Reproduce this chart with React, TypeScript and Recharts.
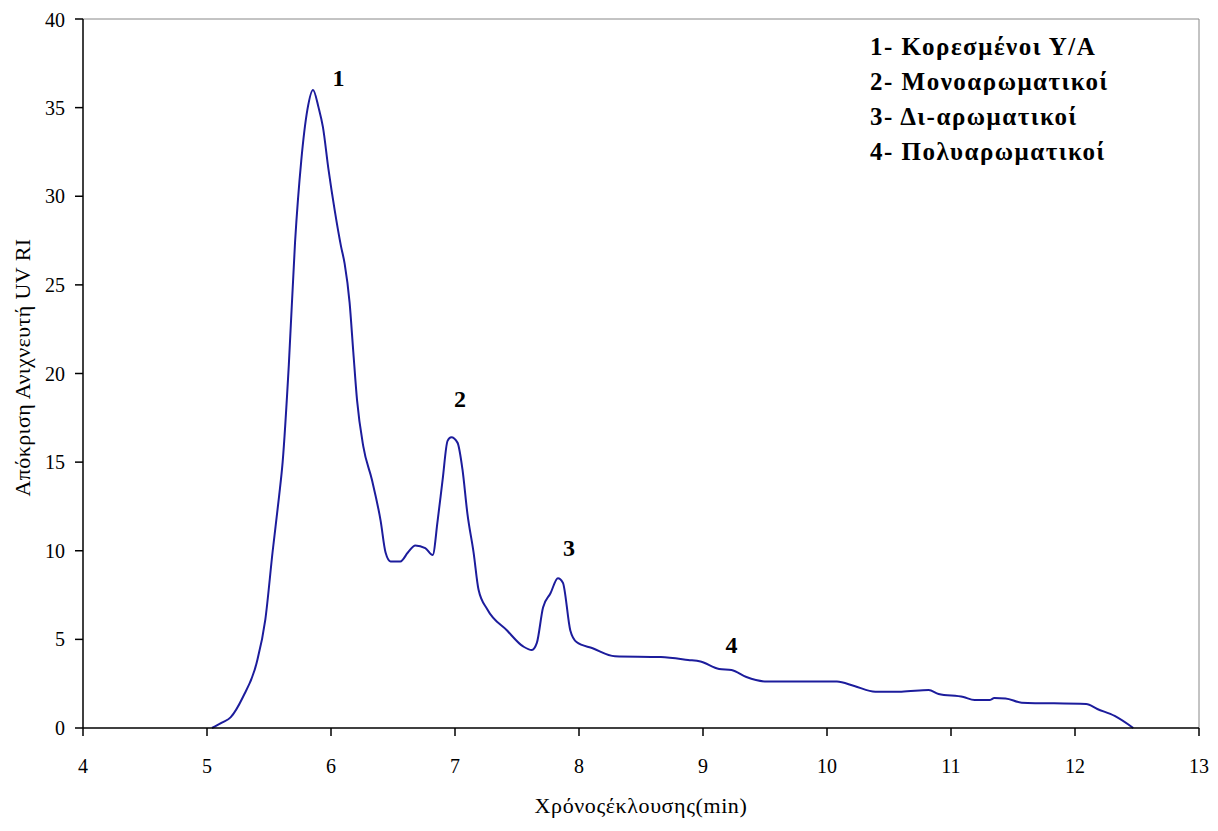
import { LineChart, Line, XAxis, YAxis, ReferenceLine, ReferenceDot } from "recharts";

const elutionTime = [
  5.04, 5.12, 5.19, 5.29, 5.4, 5.47, 5.53, 5.58, 5.61, 5.66, 5.71, 5.76, 5.81, 5.855, 5.9, 5.935,
  5.98, 6.03, 6.08, 6.11, 6.15, 6.18, 6.21, 6.26, 6.33, 6.4, 6.44, 6.48, 6.56, 6.62, 6.68, 6.76,
  6.82, 6.86, 6.9, 6.94, 6.97, 7.02, 7.06, 7.1, 7.15, 7.19, 7.26, 7.42, 7.55, 7.62, 7.66, 7.71,
  7.77, 7.83, 7.87, 7.93, 7.98, 8.11, 8.29, 8.66, 8.88, 8.98, 9.13, 9.23, 9.35, 9.52, 10.08, 10.22,
  10.39, 10.6, 10.82, 10.9, 11.1, 11.19, 11.31, 11.35, 11.44, 11.57, 12.09, 12.18, 12.32, 12.47,
];
const response = [
  0, 0.3, 0.6, 1.75, 3.67, 6.1, 10.0, 13.0, 15.0, 20.5, 27.4, 32.0, 34.9, 36.0, 35.0, 33.9,
  31.5, 29.2, 27.2, 26.2, 24.0, 21.2, 18.5, 15.9, 14.0, 11.7, 9.9, 9.4, 9.4, 9.9, 10.3, 10.15,
  9.76, 11.7, 14.0, 16.2, 16.4, 16.1, 14.6, 12.1, 9.9, 7.8, 6.7, 5.5, 4.6, 4.4, 4.8, 6.8,
  7.6, 8.45, 8.2, 5.5, 4.85, 4.5, 4.05, 4.0, 3.84, 3.75, 3.33, 3.27, 2.88, 2.62, 2.62, 2.37,
  2.05, 2.05, 2.14, 1.92, 1.75, 1.58, 1.58, 1.69, 1.67, 1.43, 1.35, 1.07, 0.68, 0,
];

const xTicks = [4, 5, 6, 7, 8, 9, 10, 11, 12, 13];
const yTicks = [0, 5, 10, 15, 20, 25, 30, 35, 40];

const peakNames = ["1", "2", "3", "4"];
const peakX = [6.06, 7.04, 7.92, 9.23];
const peakY = [36.7, 18.6, 10.2, 4.7];

const legendLines = [
  "1- Κορεσμένοι Υ/Α",
  "2- Μονοαρωματικοί",
  "3- Δι-αρωματικοί",
  "4- Πολυαρωματικοί",
];

const data = elutionTime.map((t, i) => ({ t, v: response[i] }));

const serif = '"Liberation Serif", "DejaVu Serif", serif';

export default function App() {
  return (
    <div style={{ position: "relative", width: 1210, height: 823, fontFamily: serif, background: "#fff" }}>
      <LineChart width={1210} height={823} data={data} margin={{ top: 11, right: 19, left: 15, bottom: 43 }}>
        <XAxis
          dataKey="t"
          type="number"
          domain={[4, 13]}
          ticks={xTicks}
          allowDataOverflow
          stroke="#000"
          strokeWidth={1.5}
          tickSize={8}
          tickMargin={23}
          height={60}
          tick={{ fill: "#000", fontSize: 20, fontFamily: serif }}
          label={{
            value: "Χρόνοςέκλουσης(min)",
            position: "bottom",
            offset: 9,
            fill: "#000",
            fontSize: 22,
            fontFamily: serif,
            style: { letterSpacing: "0.6px" },
          }}
        />
        <YAxis
          type="number"
          domain={[0, 40]}
          ticks={yTicks}
          stroke="#000"
          strokeWidth={1.5}
          tickSize={8}
          tickMargin={10}
          width={60}
          tick={{ fill: "#000", fontSize: 20, fontFamily: serif }}
          label={{
            value: "Απόκριση Ανιχνευτή  UV RI",
            angle: -90,
            position: "insideLeft",
            offset: -1,
            dy: -6,
            fill: "#000",
            fontSize: 22,
            fontFamily: serif,
            style: { textAnchor: "middle", letterSpacing: "0.4px" },
          }}
        />
        <ReferenceLine y={40} stroke="#888" strokeWidth={1} />
        <ReferenceLine x={13} stroke="#888" strokeWidth={1} />
        <Line
          type="monotone"
          dataKey="v"
          stroke="#1c1c9c"
          strokeWidth={2}
          dot={false}
          isAnimationActive={false}
        />
        {peakNames.map((n, i) => (
          <ReferenceDot
            key={n}
            x={peakX[i]}
            y={peakY[i]}
            r={0}
            fill="none"
            stroke="none"
            label={{ value: n, position: "center", fill: "#000", fontSize: 24, fontWeight: "bold", fontFamily: serif }}
          />
        ))}
      </LineChart>
      <div
        style={{
          position: "absolute",
          left: 862,
          top: 21,
          fontSize: 25,
          fontWeight: "bold",
          lineHeight: "35px",
          letterSpacing: "1.5px",
          color: "#000",
          whiteSpace: "nowrap",
        }}
      >
        {legendLines.map((l) => (
          <div key={l}>{l}</div>
        ))}
      </div>
    </div>
  );
}
